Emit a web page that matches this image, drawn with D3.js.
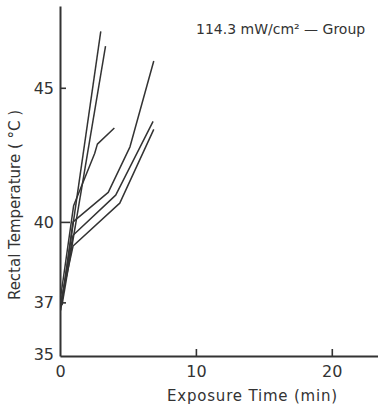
<!DOCTYPE html>
<html>
<head>
<meta charset="utf-8">
<script src="https://cdn.jsdelivr.net/npm/d3@7"></script>
<style>
  body { margin: 0; background: #fff; }
  text { font-family: "DejaVu Sans", sans-serif; fill: #333; }
</style>
</head>
<body>
<div id="chart"></div>
<script>
// exposure time (min) and rectal temperature (°C) per animal
const timesA = [0.05, 3.0];
const tempsA = [36.7, 47.1];
const timesB = [0.15, 3.35];
const tempsB = [36.9, 46.55];
const timesC = [0.1, 0.96, 3.55, 5.15, 6.9];
const tempsC = [36.9, 40.0, 41.1, 42.8, 46.0];
const timesD = [0.05, 1.0, 2.55, 2.75, 4.0];
const tempsD = [37.2, 40.6, 42.55, 42.9, 43.5];
const timesE = [0.1, 0.96, 4.1, 6.85];
const tempsE = [37.0, 39.5, 41.0, 43.75];
const timesF = [0.1, 0.96, 4.4, 6.9];
const tempsF = [37.1, 39.1, 40.7, 43.45];

const xTicks = [0, 10, 20];
const yTicks = [35, 37, 40, 45];

const series = [
  [timesA, tempsA], [timesB, tempsB], [timesC, tempsC],
  [timesD, tempsD], [timesE, tempsE], [timesF, tempsF]
].map(([t, v]) => t.map((d, i) => ({ time: d, temp: v[i] })));

const width = 378;
const height = 408;

const svg = d3.select('#chart')
  .append('svg')
  .attr('width', width)
  .attr('height', height);

const xScale = d3.scaleLinear()
  .domain([0, 23.4])
  .range([60, 378]);

const yScale = d3.scaleLinear()
  .domain([35, 48.05])
  .range([356, 6]);

// axes
const xAxis = svg.append('g')
  .attr('transform', `translate(0, ${yScale(35)})`)
  .call(d3.axisBottom(xScale).tickValues(xTicks).tickSize(-7).tickSizeOuter(0).tickPadding(10));

const yAxis = svg.append('g')
  .attr('transform', `translate(${xScale(0)}, 0)`)
  .call(d3.axisLeft(yScale).tickValues(yTicks).tickSize(-6).tickSizeOuter(0).tickPadding(6));

[xAxis, yAxis].forEach(ax => {
  ax.select('.domain').attr('stroke', '#333').attr('stroke-width', 2);
  ax.selectAll('.tick line').attr('stroke', '#333').attr('stroke-width', 1.6);
  ax.selectAll('.tick text')
    .style('font-family', '"DejaVu Sans", sans-serif')
    .style('font-size', '16px')
    .attr('fill', '#333');
});

// no tick line at the origin values
xAxis.selectAll('.tick').filter(d => d === 0).select('line').remove();
yAxis.selectAll('.tick').filter(d => d === 35).select('line').remove();
yAxis.selectAll('.tick text').attr('dy', d => d === 35 ? '0.2em' : '0.35em');
yAxis.selectAll('.tick').filter(d => d === 40).select('line').attr('x2', 10);

const line = d3.line()
  .x(d => xScale(d.time))
  .y(d => yScale(d.temp));

svg.selectAll('.line')
  .data(series)
  .enter()
  .append('path')
  .attr('class', 'line')
  .attr('d', d => line(d))
  .attr('fill', 'none')
  .attr('stroke', '#333')
  .attr('stroke-width', 1.5)
  .attr('stroke-linejoin', 'round');

// labels
svg.append('text')
  .attr('x', 196)
  .attr('y', 34)
  .style('font-size', '14px')
  .text('114.3 mW/cm² — Group');

svg.append('text')
  .attr('x', 167)
  .attr('y', 401)
  .style('font-size', '15px')
  .style('letter-spacing', '0.8px')
  .text('Exposure Time (min)');

svg.append('text')
  .attr('transform', 'translate(20, 205) rotate(-90)')
  .attr('text-anchor', 'middle')
  .style('font-size', '15px')
  .text('Rectal Temperature ( °C )');
</script>
</body>
</html>
